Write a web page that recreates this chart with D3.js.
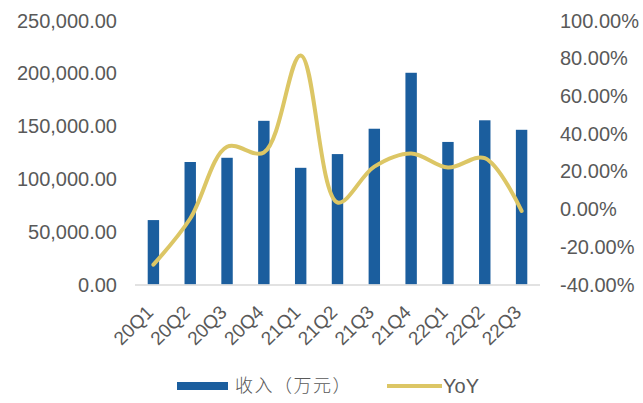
<!DOCTYPE html>
<html><head><meta charset="utf-8">
<script src="https://cdn.jsdelivr.net/npm/d3@7/dist/d3.min.js"></script>
<style>
body{margin:0;background:#fff;}
text{font-family:"Liberation Sans",Arial,sans-serif;fill:#595959;}
</style></head>
<body><svg id="c" width="643" height="403"></svg>
<script>
const categories = ["20Q1","20Q2","20Q3","20Q4","21Q1","21Q2","21Q3","21Q4","22Q1","22Q2","22Q3"];
const revenue = [61000,116000,120000,155000,110500,123500,147500,200500,135000,155500,146500];
const yoy = [-29.5,-5,33,30,81.5,3.5,22.5,29.5,22,27,-1];
const leftTicks = [0,50000,100000,150000,200000,250000];
const rightTicks = [-40,-20,0,20,40,60,80,100];

const svg = d3.select("#c");
const x0 = 135, x1 = 540, yTop = 20.5, yBot = 284.5;
const x = d3.scaleBand().domain(categories).range([x0,x1]).paddingInner(0.69).paddingOuter(0.345);
const yL = d3.scaleLinear().domain([0,250000]).range([yBot,yTop]);
const yR = d3.scaleLinear().domain([-40,100]).range([yBot,yTop]);

// bars
svg.append("g").selectAll("rect").data(revenue).join("rect")
  .attr("x",(d,i)=>x(categories[i])).attr("width",x.bandwidth())
  .attr("y",d=>yL(d)).attr("height",d=>yBot-yL(d)).attr("fill","#1B5E9E");

// baseline
svg.append("line").attr("x1",x0).attr("x2",x1).attr("y1",yBot+0.5).attr("y2",yBot+0.5)
  .attr("stroke","#d9d9d9").attr("stroke-width",1.5);

// line
const line = d3.line().x((d,i)=>x(categories[i])+x.bandwidth()/2).y(d=>yR(d)).curve(d3.curveCatmullRom.alpha(0.5));
svg.append("path").datum(yoy).attr("d",line).attr("fill","none")
  .attr("stroke","#DCC665").attr("stroke-width",4).attr("stroke-linecap","round");

// left axis
const fmtL = d3.format(",.2f");
svg.append("g").selectAll("text").data(leftTicks).join("text")
  .attr("x",117).attr("y",d=>yL(d)).attr("dy","0.35em").attr("text-anchor","end")
  .attr("font-size",20).text(d=>fmtL(d));

// right axis
svg.append("g").selectAll("text").data(rightTicks).join("text")
  .attr("x",560).attr("y",d=>yR(d)).attr("dy","0.35em").attr("text-anchor","start")
  .attr("font-size",20).text(d=>d.toFixed(2)+"%");

// x labels
svg.append("g").selectAll("text").data(categories).join("text")
  .attr("transform",d=>`translate(${x(d)+x.bandwidth()/2+1},${yBot+29}) rotate(-45)`)
  .attr("text-anchor","end").attr("font-size",19).text(d=>d);

// legend
svg.append("rect").attr("x",177).attr("y",382).attr("width",51).attr("height",8).attr("fill","#1B5E9E");
svg.append("text").attr("x",235).attr("y",386).attr("dy","0.35em").attr("font-size",18)
  .attr("letter-spacing",1.5)
  .style("font-family","'Noto Sans CJK SC',sans-serif").style("font-weight",300).text("收入（万元）");
svg.append("line").attr("x1",387).attr("x2",442).attr("y1",386).attr("y2",386)
  .attr("stroke","#DCC665").attr("stroke-width",4);
svg.append("text").attr("x",443).attr("y",386).attr("dy","0.35em").attr("font-size",20).text("YoY");
</script></body></html>
